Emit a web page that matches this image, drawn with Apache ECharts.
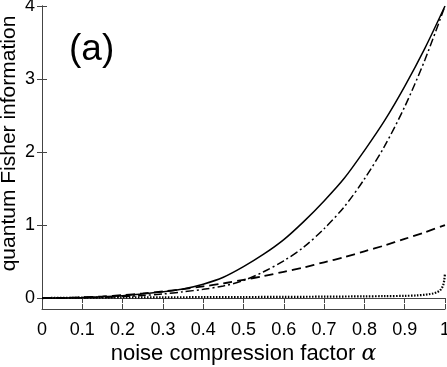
<!DOCTYPE html>
<html>
<head>
<meta charset="utf-8">
<script src="https://cdn.jsdelivr.net/npm/echarts@6/dist/echarts.min.js"></script>
<style>
  html, body { margin: 0; padding: 0; background: #fff; }
  #chart { width: 447px; height: 367px; }
</style>
</head>
<body>
<div id="chart"></div>
<script>
// alpha grid
const alpha = [0, 0.05, 0.1, 0.15, 0.2, 0.25, 0.3, 0.35, 0.4, 0.45, 0.5,
  0.55, 0.6, 0.65, 0.7, 0.75, 0.8, 0.85, 0.9, 0.95, 1.0]
const solidVals = [0, 0.002, 0.008, 0.018, 0.033, 0.055, 0.085, 0.125, 0.19, 0.285, 0.43,
  0.6, 0.8, 1.05, 1.33, 1.64, 2.02, 2.43, 2.9, 3.42, 4.0]
const dashDotVals = [0, 0.001, 0.004, 0.01, 0.02, 0.035, 0.055, 0.085, 0.12, 0.165, 0.24,
  0.36, 0.51, 0.7, 0.95, 1.25, 1.63, 2.08, 2.62, 3.26, 4.0]
const dashedVals = [0, 0.003, 0.01, 0.023, 0.04, 0.063, 0.09, 0.122, 0.16, 0.2, 0.25,
  0.3, 0.36, 0.42, 0.49, 0.56, 0.64, 0.72, 0.81, 0.9, 1.0]
// dotted curve: flat near zero, shoots up at alpha -> 1
const dotAlpha = [0, 0.1, 0.2, 0.3, 0.4, 0.5, 0.6, 0.7, 0.8, 0.85, 0.9, 0.93, 0.95, 0.96, 0.97, 0.98, 0.985, 0.99, 0.995, 0.998, 1.0]
const dotVals = [0, 0.005, 0.008, 0.01, 0.012, 0.014, 0.016, 0.019, 0.023, 0.026, 0.03, 0.036, 0.045, 0.052, 0.062, 0.08, 0.095, 0.12, 0.17, 0.24, 0.34]
const xTicks = [0, 0.1, 0.2, 0.3, 0.4, 0.5, 0.6, 0.7, 0.8, 0.9, 1]
const yTicks = [0, 1, 2, 3, 4]

const pairs = (xs, ys) => xs.map((x, i) => [x, ys[i]])

const font = 'Liberation Sans, Arial, sans-serif'
const axisCol = '#444'

const chart = echarts.init(document.getElementById('chart'))

const lineSeries = (data, type, width) => ({
  type: 'line',
  data: data,
  showSymbol: false,
  smooth: 0.3,
  xAxisIndex: 0,
  yAxisIndex: 0,
  lineStyle: { color: '#000', width: width, type: type },
  z: 3
})

chart.setOption({
  animation: false,
  grid: { left: 42, right: 2, top: 6, bottom: 58, containLabel: false, outerBoundsMode: 'none' },
  graphic: [{
    type: 'text',
    left: 69,
    top: 31,
    style: { text: '(a)', font: '37px ' + font, fill: '#000' }
  }],
  xAxis: [{
    type: 'value',
    min: 0, max: 1, interval: 0.1,
    name: 'noise compression factor {a|α}',
    nameLocation: 'middle',
    nameGap: 34,
    nameMoveOverlap: false,
    nameTextStyle: {
      fontFamily: font, fontSize: 22, color: '#000',
      rich: { a: { fontFamily: 'DejaVu Serif, serif', fontStyle: 'italic', fontSize: 22, color: '#000' } }
    },
    axisLine: { show: true, onZero: false, lineStyle: { color: axisCol, width: 1 } },
    axisTick: { show: true, inside: true, length: 5, lineStyle: { color: axisCol } },
    axisLabel: { fontFamily: font, fontSize: 18, color: '#000', margin: 12,
      formatter: v => String(Math.round(v * 10) / 10), customValues: xTicks },
    splitLine: { show: false }
  }, {
    type: 'value',
    position: 'top',
    min: 0, max: 1, interval: 0.1,
    axisLine: { show: true, lineStyle: { color: axisCol, width: 1 } },
    axisTick: { show: true, inside: true, length: 5, lineStyle: { color: axisCol } },
    axisLabel: { show: false },
    splitLine: { show: false }
  }],
  yAxis: [{
    type: 'value',
    min: -0.15, max: 4,
    name: 'quantum Fisher information',
    nameLocation: 'middle',
    nameGap: 22,
    nameMoveOverlap: false,
    nameTextStyle: { fontFamily: font, fontSize: 21, color: '#000', padding: [0, 0, 0, 28] },
    axisLine: { show: true, onZero: false, lineStyle: { color: axisCol, width: 1 } },
    axisTick: { show: true, inside: true, length: 5, customValues: yTicks, lineStyle: { color: axisCol } },
    axisLabel: { fontFamily: font, fontSize: 18, color: '#000', margin: 7, customValues: yTicks },
    splitLine: { show: false }
  }, {
    type: 'value',
    position: 'right',
    min: -0.15, max: 4,
    axisLine: { show: true, lineStyle: { color: axisCol, width: 1 } },
    axisTick: { show: true, inside: true, length: 5, customValues: yTicks, lineStyle: { color: axisCol } },
    axisLabel: { show: false },
    splitLine: { show: false }
  }],
  series: [
    lineSeries(pairs(alpha, solidVals), 'solid', 1.5),
    lineSeries(pairs(alpha, dashDotVals), [8, 3, 2, 3], 1.5),
    lineSeries(pairs(alpha, dashedVals), [9, 5], 1.8),
    lineSeries(pairs(dotAlpha, dotVals), [1.5, 1.5], 2.2)
  ]
})
</script>
</body>
</html>
